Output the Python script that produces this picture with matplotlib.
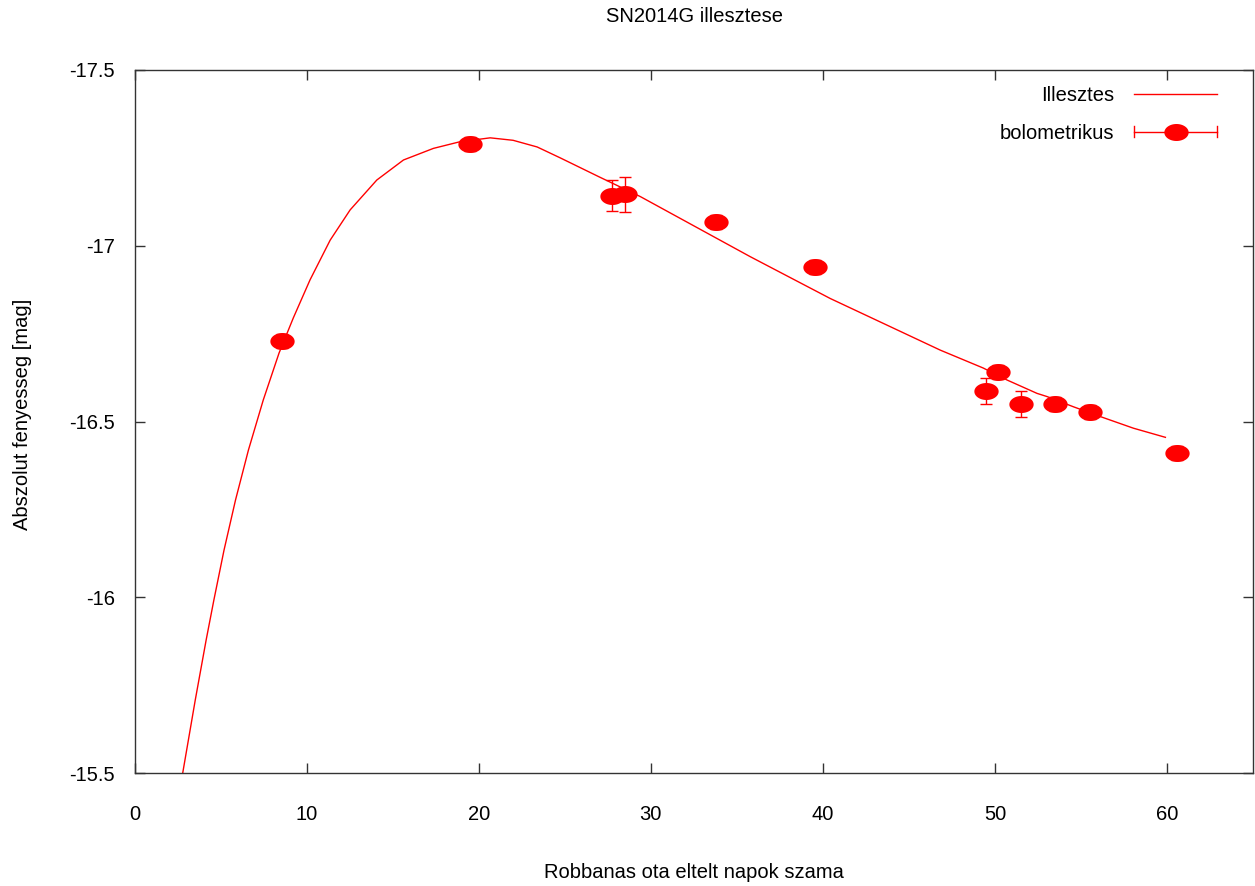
import numpy as np
import matplotlib
matplotlib.use("Agg")
import matplotlib.pyplot as plt
from matplotlib.lines import Line2D
from matplotlib.path import Path
from matplotlib.legend_handler import HandlerBase

plt.rcParams['font.family'] = ['Liberation Sans', 'DejaVu Sans']
plt.rcParams['axes.unicode_minus'] = False

# ---- data ----
days = [8.58, 19.5, 27.77, 28.5, 33.8, 39.56, 49.5, 50.2, 51.5, 53.5, 55.5, 60.6]
mag = [-16.73, -17.29, -17.142, -17.147, -17.068, -16.94, -16.587, -16.641,
       -16.55, -16.55, -16.527, -16.41]
mag_err = [0.02, 0.02, 0.044, 0.05, 0.02, 0.02, 0.037, 0.02, 0.036, 0.02, 0.02, 0.02]

fit_days = [2.80, 3.53, 4.16, 4.61, 5.20, 5.87, 6.62, 7.48, 8.40, 9.23, 10.20, 11.37,
            12.53, 14.08, 15.63, 17.37, 18.92, 20.67, 22.0, 23.4, 24.74, 27.0,
            29.39, 35.78, 40.43, 46.83, 49.33, 50.71, 52.45, 53.03, 54.56, 56.13,
            58.05, 59.91]
fit_mag = [-15.500, -15.708, -15.878, -15.992, -16.134, -16.277, -16.419, -16.561,
           -16.695, -16.795, -16.903, -17.016, -17.102, -17.187, -17.244, -17.277,
           -17.296, -17.307, -17.300, -17.281, -17.250, -17.196, -17.140, -16.969,
           -16.850, -16.703, -16.652, -16.618, -16.580, -16.571, -16.542, -16.514,
           -16.481, -16.455]

x_ticks = [0, 10, 20, 30, 40, 50, 60]
x_tick_labels = ["0", "10", "20", "30", "40", "50", "60"]
y_ticks = [-17.5, -17.0, -16.5, -16.0, -15.5]
y_tick_labels = ["-17.5", "-17", "-16.5", "-16", "-15.5"]

title = "SN2014G illesztese"
xlabel = "Robbanas ota eltelt napok szama"
ylabel = "Abszolut fenyesseg [mag]"
fit_label = "Illesztes"
data_label = "bolometrikus"

RED = "#ff0000"
FS = 14.5

# elliptical marker (gnuplot-like stretched filled circle)
th = np.linspace(0, 2 * np.pi, 60)
ell = Path(np.column_stack([np.cos(th), 0.7 * np.sin(th)]), closed=True)
MS = 17.5

fig = plt.figure(figsize=(12.55, 8.86), dpi=100)
ax = fig.add_axes([0.1072, 0.1275, 0.8912, 0.7935])

ax.plot(fit_days, fit_mag, color=RED, lw=1.0, label=fit_label)
ax.errorbar(days, mag, yerr=mag_err, fmt='none', ecolor=RED, elinewidth=1.0,
            capsize=4, capthick=1.0)
ax.plot(days, mag, linestyle='none', marker=ell, ms=MS, color=RED,
        markeredgewidth=0)

ax.set_xlim(0, 65)
ax.set_ylim(-15.5, -17.5)
ax.set_xticks(x_ticks)
ax.set_xticklabels(x_tick_labels)
ax.set_yticks(y_ticks)
ax.set_yticklabels(y_tick_labels)
ax.tick_params(direction='in', length=7, width=1, colors='#333333',
               labelcolor='black', labelsize=FS, top=True, right=True)
ax.tick_params(axis='x', pad=23)
ax.tick_params(axis='y', pad=14)
for s in ax.spines.values():
    s.set_color('#333333')
    s.set_linewidth(1.0)

ax.set_xlabel(xlabel, fontsize=FS, va='center')
ax.xaxis.set_label_coords(0.5, -0.1408)
ax.set_ylabel(ylabel, fontsize=FS, va='center')
ax.yaxis.set_label_coords(-0.1006, 0.51)
fig.text(0.553, 1 - 17 / 886, title, fontsize=FS, ha='center', va='center')


class HandlerHErr(HandlerBase):
    def create_artists(self, legend, orig_handle, xdescent, ydescent, width,
                       height, fontsize, trans):
        y = height / 2 - ydescent
        x0 = -xdescent
        x1 = -xdescent + width
        c = 4.0
        arts = [
            Line2D([x0, x1], [y, y], color=RED, lw=1.0),
            Line2D([x0, x0], [y - c, y + c], color=RED, lw=1.0),
            Line2D([x1, x1], [y - c, y + c], color=RED, lw=1.0),
            Line2D([(x0 + x1) / 2], [y], marker=ell, ms=MS, color=RED,
                   markeredgewidth=0, linestyle='none'),
        ]
        for a in arts:
            a.set_transform(trans)
        return arts


fit_handle = Line2D([], [], color=RED, lw=1.0)
data_handle = Line2D([], [], color=RED)
leg = ax.legend([fit_handle, data_handle], [fit_label, data_label],
                handler_map={data_handle: HandlerHErr()},
                loc='upper right', bbox_to_anchor=(0.9678, 0.9777),
                frameon=False, markerfirst=False, fontsize=FS,
                handlelength=4.1, handletextpad=1.0, labelspacing=0.95,
                borderpad=0, borderaxespad=0)

fig.savefig("out.png", dpi=100)
